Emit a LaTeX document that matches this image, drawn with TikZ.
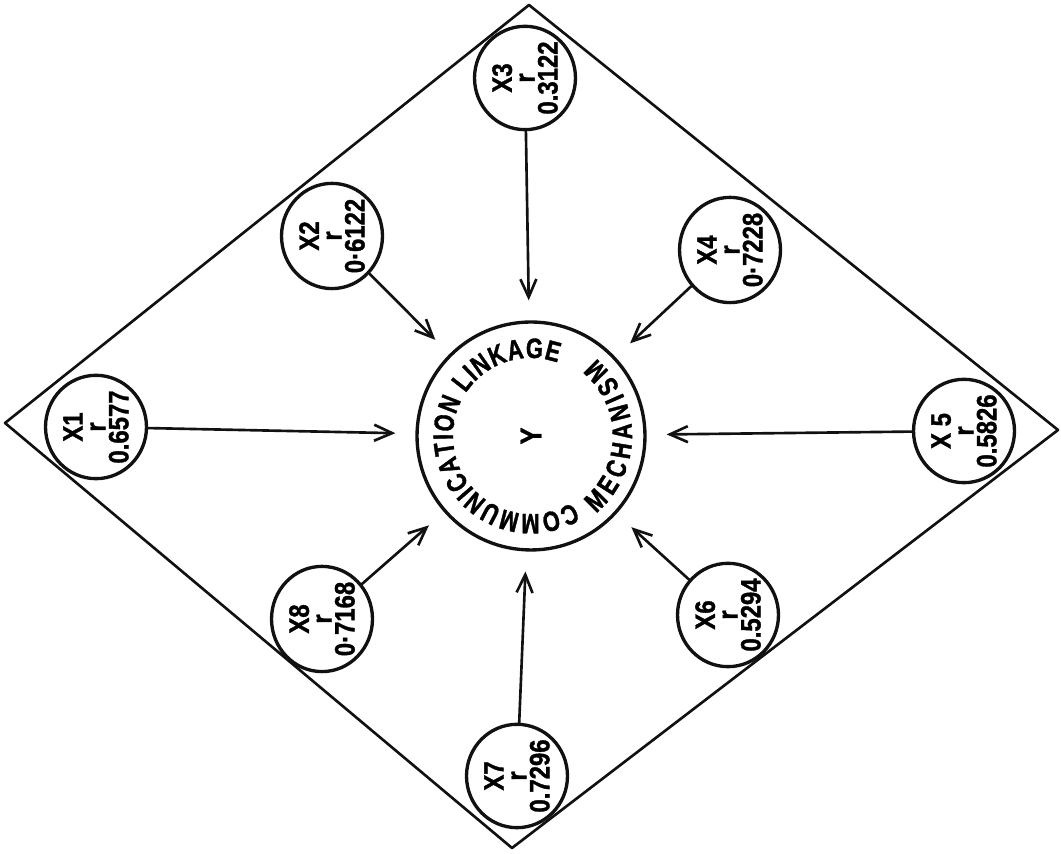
\documentclass[tikz,border=0pt]{standalone}
\usepackage{fontspec}
\setmainfont{Liberation Sans}
\newfontfamily\ringfont[FakeStretch=0.78,FakeBold=1.2]{Liberation Sans}
\newfontfamily\factorfont[FakeStretch=0.85,FakeBold=1.2]{Liberation Sans}
\usetikzlibrary{arrows.meta,positioning,calc,shapes.geometric,decorations.text}
\definecolor{ink}{HTML}{111111}
\tikzset{
    every picture/.style={line cap=round,line join=round},
    factornode/.style={draw=ink,ellipse,rotate=90,line width=1.9pt,
      minimum width=1.86cm,minimum height=2.02cm,inner sep=0pt,
      font=\factorfont\fontsize{16}{13}\selectfont\bfseries,align=center},
    centrenode/.style={draw=ink,circle,rotate=90,line width=1.9pt,
      minimum size=4.56cm,inner sep=0pt,
      font=\factorfont\fontsize{17}{17}\selectfont\bfseries},
    flowarrow/.style={-{Straight Barb[length=3.6mm,width=3.2mm]},draw=ink,
      line width=1.5pt,shorten >=4mm},
    ringtext/.style={decorate,decoration={text along path,text align=fit to path,
      text format delimiters={|}{|}}}
}
\begin{document}
\begin{tikzpicture}[x=0.02cm,y=0.02cm]
  \useasboundingbox (0,0) rectangle (1061,854);
  % frame
  \coordinate (dtop) at (529,849);
  \coordinate (dright) at (1058,424);
  \coordinate (dbottom) at (512,6);
  \coordinate (dleft) at (5,431);
  \draw[ink,line width=1.5pt] (dtop)--(dright)--(dbottom)--(dleft)--cycle;

  % dependent variable
  \node[centrenode] (y) at (531,418) {Y};
  \path[ringtext,decoration={text={|\ringfont\fontsize{16}{16}\selectfont\bfseries|COMMUNICATION LINKAGE}}]
    ($(y.center)+(-58:78)$) arc[start angle=-58,end angle=-290,radius=78];
  \path[ringtext,decoration={text={|\ringfont\fontsize{16}{16}\selectfont\bfseries|MECHANISM}}]
    ($(y.center)+(-50:101)$) arc[start angle=-50,end angle=50,radius=101];

  % independent variables
  \node[factornode] (x1) at (96,427) {X1\\r\\0.6577};
  \node[factornode] (x2) at (332,618) {X2\\r\\0·6122};
  \node[factornode] (x3) at (525,776) {X3\\r\\0.3122};
  \node[factornode] (x4) at (730,604) {X4\\r\\0·7228};
  \node[factornode] (x5) at (964,423) {X 5\\r\\0.5826};
  \node[factornode] (x6) at (728,239) {X6\\r\\0.5294};
  \node[factornode] (x7) at (517,78) {X7\\r\\0.7296};
  \node[factornode] (x8) at (322,235) {X8\\r\\0·7168};

  \draw[flowarrow] (x1)--(y); \draw[flowarrow] (x2)--(y);
  \draw[flowarrow] (x3)--(y); \draw[flowarrow] (x4)--(y);
  \draw[flowarrow] (x5)--(y); \draw[flowarrow] (x6)--(y);
  \draw[flowarrow] (x7)--(y); \draw[flowarrow] (x8)--(y);
\end{tikzpicture}
\end{document}
